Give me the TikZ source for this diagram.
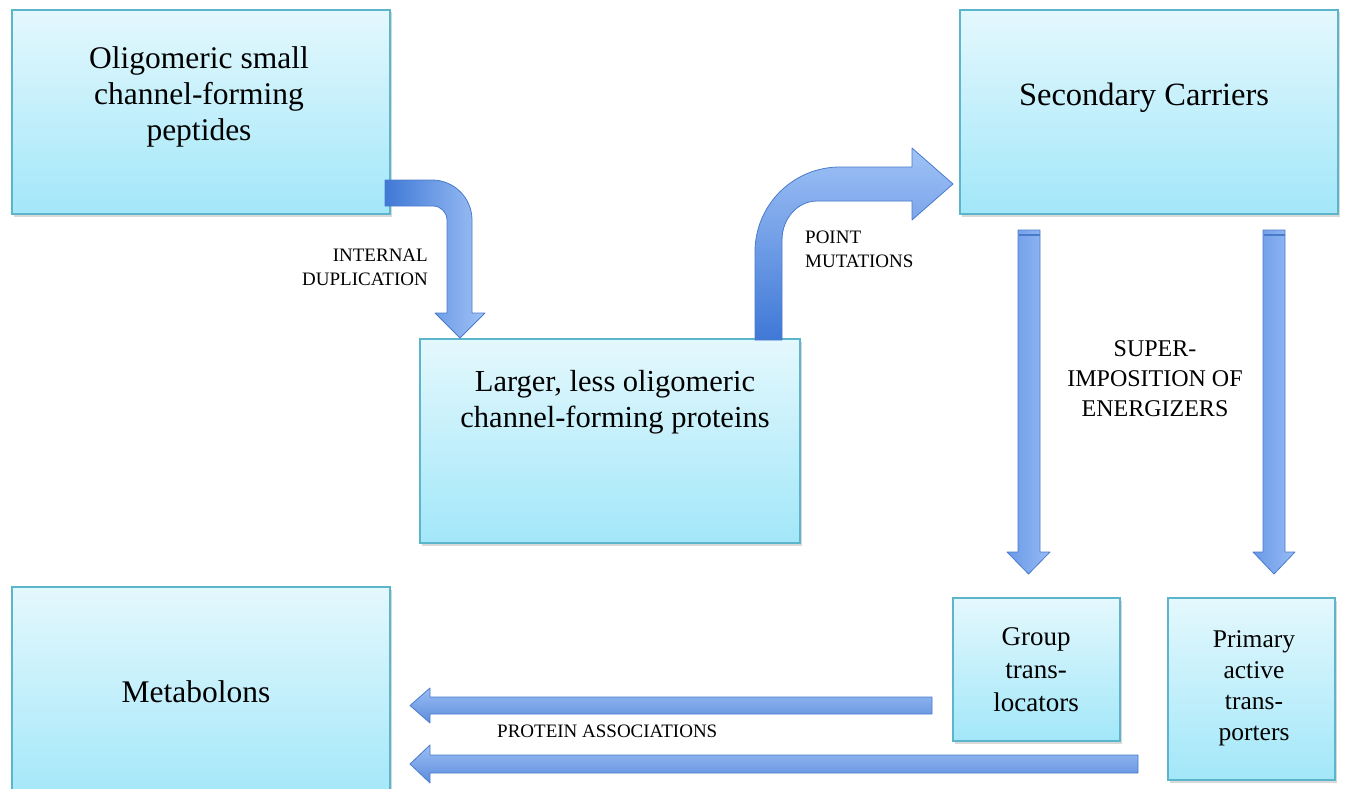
\documentclass[tikz,border=0pt]{standalone}
\usepackage{fontspec}
\setmainfont{Liberation Serif}
\usetikzlibrary{shadows}
\definecolor{boxtop}{HTML}{E4F8FD}
\definecolor{boxbot}{HTML}{A2E7F9}
\definecolor{boxline}{HTML}{5BB5CB}
\definecolor{arrdark}{HTML}{3F78D6}
\definecolor{arrlight}{HTML}{A0C2F6}
\definecolor{arrmid}{HTML}{6F9DEA}
\definecolor{arrline}{HTML}{4A7BCB}
\begin{document}
\begin{tikzpicture}[x=1pt,y=-1pt,
  box/.style={draw=boxline, line width=1.2pt, top color=boxtop, bottom color=boxbot,
    inner sep=0pt, drop shadow={opacity=0.3, shadow xshift=2pt, shadow yshift=-2.5pt}},
  maintxt/.style={font=\fontsize{31.5}{36}\selectfont, align=center, inner sep=0pt},
  smalltxt/.style={font=\fontsize{19}{24}\selectfont, inner sep=0pt},
  fatarrow/.style={draw=arrline, line width=0.8pt, line join=round},
  harrow/.style={fatarrow, top color=arrlight!90!arrmid, bottom color=arrdark!85!white},
  varrow/.style={fatarrow, left color=arrmid!90!arrdark, middle color=arrmid!60!arrlight, right color=arrlight!80!arrmid},
]
\useasboundingbox (0,0) rectangle (1346,789);

% boxes
\node[box, minimum width=378pt, minimum height=204pt] (A) at (201,112) {};
\node[box, minimum width=380pt, minimum height=204pt] (B) at (610,441) {};
\node[box, minimum width=378pt, minimum height=204pt] (C) at (1149,112) {};
\node[box, minimum width=378pt, minimum height=215pt] (D) at (201,694.5) {};
\node[box, minimum width=167pt, minimum height=143pt] (E) at (1036.5,669.5) {};
\node[box, minimum width=167pt, minimum height=182pt] (F) at (1251.5,689) {};

% box texts
\node[maintxt] (At) at (199,97) {Oligomeric small\\channel-forming\\peptides};
\node[maintxt, font=\fontsize{30.5}{36}\selectfont] (Bt) at (615,402) {Larger, less oligomeric\\channel-forming proteins};
\node[maintxt, font=\fontsize{32.5}{36}\selectfont] (Ct) at (1144,98) {Secondary Carriers};
\node[maintxt] (Dt) at (196,692) {Metabolons};
\node[maintxt, font=\fontsize{27}{33}\selectfont] (Et) at (1036,670) {Group\\trans-\\locators};
\node[maintxt, font=\fontsize{25.5}{31}\selectfont] (Ft) at (1254,688) {Primary\\active\\trans-\\porters};

% arrow A -> B (internal duplication)
\path[fatarrow, left color=arrdark, right color=arrlight]
  (385,180) -- (432,180) .. controls (454.1,180) and (472,197.9) .. (472,220)
  -- (472,313) -- (485,313) -- (460,338) -- (435,313) -- (447,313) -- (447,220)
  .. controls (447,212.3) and (440.7,206) .. (433,206) -- (385,206) -- cycle;

% arrow B -> C (point mutations)
\path[fatarrow, bottom color=arrdark, top color=arrlight]
  (755,340) -- (755,252) .. controls (755,205) and (793,167) .. (840,167)
  -- (912,167) -- (912,148) -- (953,184) -- (912,220) -- (912,201) -- (817,201)
  .. controls (797.7,201) and (782,218.5) .. (782,240) -- (782,340) -- cycle;

% arrows C -> E and C -> F
\path[varrow] (1018,230) -- (1040,230) -- (1040,552) -- (1050,552) -- (1028.5,574)
  -- (1007,552) -- (1018,552) -- cycle;
\draw[arrline, line width=1.5pt] (1018.5,235) -- (1039.5,235);
\path[varrow] (1263,230) -- (1285,230) -- (1285,552) -- (1295,552) -- (1274,574)
  -- (1253,552) -- (1263,552) -- cycle;
\draw[arrline, line width=1.5pt] (1263.5,235) -- (1284.5,235);

% arrows E -> D and F -> D
\path[harrow] (932,697) -- (932,714) -- (430,714) -- (430,723) -- (410,705.5)
  -- (430,688) -- (430,697) -- cycle;
\path[harrow] (1138,755) -- (1138,773) -- (430,773) -- (430,783) -- (410,764)
  -- (430,745) -- (430,755) -- cycle;

% labels
\node[smalltxt, align=right, anchor=east] (L1) at (428,267) {INTERNAL\\DUPLICATION};
\node[smalltxt, align=left, anchor=west] (L2) at (805,249) {POINT\\MUTATIONS};
\node[smalltxt, font=\fontsize{24}{30}\selectfont, align=center] (L3) at (1155,379) {SUPER-\\IMPOSITION OF\\ENERGIZERS};
\node[smalltxt, anchor=west] (L4) at (497,731) {PROTEIN ASSOCIATIONS};
\end{tikzpicture}
\end{document}
